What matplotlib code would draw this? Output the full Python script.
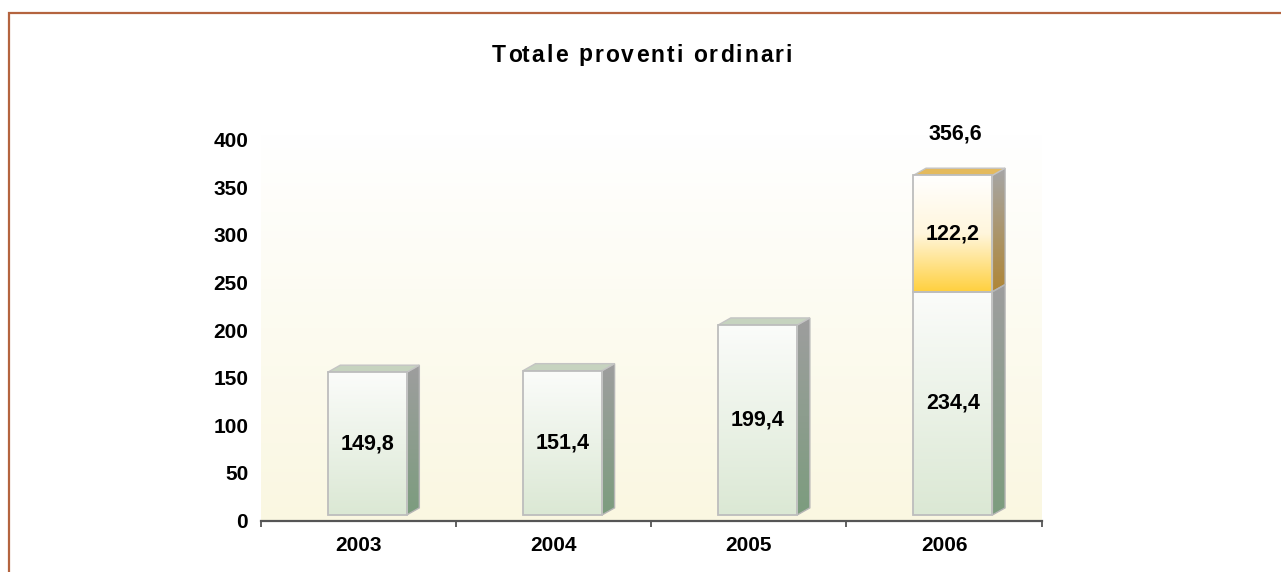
import matplotlib
matplotlib.use('agg')
import matplotlib.pyplot as plt
import numpy as np
from matplotlib.patches import Polygon, Rectangle
from matplotlib.colors import LinearSegmentedColormap
from matplotlib.transforms import ScaledTranslation

matplotlib.rcParams['font.family'] = ['Liberation Sans', 'DejaVu Sans']
matplotlib.rcParams['font.weight'] = 'bold'

# data
years = ['2003', '2004', '2005', '2006']
base_values = [149.8, 151.4, 199.4, 234.4]
extra_values = [0, 0, 0, 122.2]
totals = [b + e for b, e in zip(base_values, extra_values)]
title = 'Totale proventi ordinari'

fig = plt.figure(figsize=(12.81, 5.72), dpi=100)
ax = fig.add_axes([260.7 / 1281, 51 / 572, 781 / 1281, 387 / 572])

# background gradient of the plot area
bg = LinearSegmentedColormap.from_list('bg', ['#FAF7E1', '#FFFFFF'])
ax.imshow(np.linspace(0, 1, 256).reshape(-1, 1), cmap=bg, origin='lower',
          extent=[0, 1, 0, 1], transform=ax.transAxes, aspect='auto', zorder=0)
ax.set_facecolor('none')

x = np.arange(len(years))
shift = 0.045
width = 0.405
dx = 0.065   # 3d depth in x (data units)
dy = 7.5     # 3d depth in y (data units)

green_front = LinearSegmentedColormap.from_list('gf', ['#DBE8D4', '#FBFCFA'])
green_side = LinearSegmentedColormap.from_list('gs', ['#7C9C7E', '#9E9E9E'])
gold_front = LinearSegmentedColormap.from_list('of', ['#FFD03E', '#FFF6DC', '#FFFFFF'])
gold_side = LinearSegmentedColormap.from_list('os', ['#B08635', '#A6A6A6'])
grad = np.linspace(0, 1, 256).reshape(-1, 1)


def draw_box(xc, y0, h, cfront, cside, ctop, show_top=True):
    x0 = xc - width / 2
    x1 = xc + width / 2
    # side face
    side = Polygon([(x1, y0), (x1 + dx, y0 + dy), (x1 + dx, y0 + h + dy), (x1, y0 + h)],
                   closed=True, facecolor='none', edgecolor='#B5B5B5', lw=1.0, zorder=3)
    ax.add_patch(side)
    im = ax.imshow(grad, cmap=cside, origin='lower', aspect='auto',
                   extent=[x1, x1 + dx, y0, y0 + h + dy], zorder=2)
    im.set_clip_path(side)
    # top face
    if show_top:
        top = Polygon([(x0, y0 + h), (x0 + dx, y0 + h + dy), (x1 + dx, y0 + h + dy), (x1, y0 + h)],
                      closed=True, facecolor=ctop, edgecolor='#C4C4C4', lw=1.0, zorder=3)
        ax.add_patch(top)
    # front face
    front = ax.bar(xc, h, width, bottom=y0, facecolor='none',
                   edgecolor='#BDBDBD', lw=1.3, zorder=5)[0]
    im = ax.imshow(grad, cmap=cfront, origin='lower', aspect='auto',
                   extent=[x0, x1, y0, y0 + h], zorder=4)
    im.set_clip_path(front)


for i in range(len(years)):
    xc = x[i] + shift
    draw_box(xc, 0, base_values[i], green_front, green_side, '#C6D3BF',
             show_top=extra_values[i] == 0)
    ax.text(xc, base_values[i] / 2, f'{base_values[i]:.1f}'.replace('.', ','),
            ha='center', va='center', fontsize=15.5, fontweight='bold', zorder=6)
    if extra_values[i] > 0:
        draw_box(xc, base_values[i], extra_values[i], gold_front, gold_side, '#E4BA5E')
        ax.text(xc, base_values[i] + extra_values[i] / 2,
                f'{extra_values[i]:.1f}'.replace('.', ','),
                ha='center', va='center', fontsize=15.5, fontweight='bold', zorder=6)
        ax.annotate(f'{totals[i]:.1f}'.replace('.', ','), (xc, totals[i]),
                    xytext=(2, 30), textcoords='offset points',
                    ha='center', va='center', fontsize=15.5, fontweight='bold',
                    annotation_clip=False)

ax.set_xlim(-0.5, 3.5)
ax.set_ylim(-6.3, 400)
ax.set_yticks(np.arange(0, 401, 50))
ax.set_xticks(x)
ax.set_xticklabels(years, fontsize=15, fontweight='bold')
ax.set_xticks(np.arange(-0.5, 3.6, 1), minor=True)
ax.tick_params(axis='x', which='major', length=0, pad=11)
ax.tick_params(axis='x', which='minor', length=4.5, width=1.3, color='#555555', direction='out')
ax.tick_params(axis='y', length=0, pad=9, labelsize=15)
for lab in ax.get_yticklabels():
    lab.set_fontweight('bold')
    lab.set_transform(lab.get_transform() + ScaledTranslation(0, -4 / 72, fig.dpi_scale_trans))

for s in ['top', 'right', 'left']:
    ax.spines[s].set_visible(False)
ax.spines['bottom'].set_color('#555555')
ax.spines['bottom'].set_linewidth(1.6)
ax.spines['bottom'].set_zorder(7)

# title with slight letter spacing, one character at a time
renderer = fig.canvas.get_renderer()
tsize = 16.5


def text_w(s):
    t = fig.text(0, 0, s, fontsize=tsize, fontweight='bold')
    w = t.get_window_extent(renderer).width
    t.remove()
    return w


ref_w = text_w('l')
advances = [text_w(title[:k] + 'l') - ref_w for k in range(len(title))]
natural = text_w(title)
spacing = (300 - natural) / (len(title) - 1)
x_start = 642 - 300 / 2
for k, ch in enumerate(title):
    if ch != ' ':
        fig.text((x_start + advances[k] + k * spacing) / 1281, 1 - 55 / 572, ch,
                 ha='left', va='center', fontsize=tsize, fontweight='bold')

# outer frame of the chart
fig.patches.append(Rectangle((9 / 1281, -0.2), 1.2, 1.2 - 13 / 572, transform=fig.transFigure,
                             fill=False, edgecolor='#B4643F', lw=1.6))

fig.savefig('out.png', dpi=100)
